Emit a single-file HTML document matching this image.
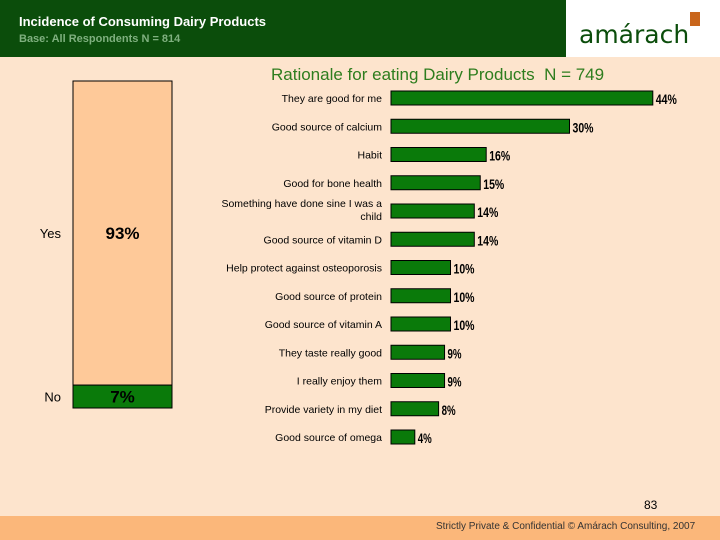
<!DOCTYPE html>
<html><head><meta charset="utf-8"><style>
body{margin:0;width:720px;height:540px;overflow:hidden;background:#fde4cd;font-family:"Liberation Sans",sans-serif;position:relative}
.abs{position:absolute}
</style></head><body>
<div class="abs" style="left:0;top:0;width:566px;height:57px;background:#0b4d0b"></div>
<div class="abs" style="left:19px;top:14px;color:#fff;font-weight:bold;font-size:13px">Incidence of Consuming Dairy Products</div>
<div class="abs" style="left:19px;top:33px;color:#7fb07f;font-weight:bold;font-size:11px">Base: All Respondents N = 814</div>
<div class="abs" style="left:566px;top:0;width:154px;height:57px;background:#fff"></div>
<div class="abs" style="left:579px;top:20px;color:#0b4d0b;font-size:25px;font-family:'DejaVu Sans',sans-serif">amárach</div>
<div class="abs" style="left:690px;top:12px;width:10px;height:14px;background:#c9661c"></div>
<div class="abs" style="left:271px;top:65px;color:#2e7d1e;font-size:17px">Rationale for eating Dairy Products&nbsp; N = 749</div>
<svg class="abs" style="left:0;top:0" width="720" height="540" id="chart"></svg>
<div class="abs" style="left:644px;top:498px;font-size:12px;color:#000">83</div>
<div class="abs" style="left:0;top:516px;width:720px;height:24px;background:#fbb77a"></div>
<div class="abs" style="left:436px;top:521px;font-size:10px;color:#333">Strictly Private &amp; Confidential © Amárach Consulting, 2007</div>
<script>
const categories=["They are good for me","Good source of calcium","Habit","Good for bone health","Something have done sine I was a child","Good source of vitamin D","Help protect against osteoporosis","Good source of protein","Good source of vitamin A","They taste really good","I really enjoy them","Provide variety in my diet","Good source of omega"];
const values=[44,30,16,15,14,14,10,10,10,9,9,8,4];
const stackLabels=["Yes","No"];
const stackValues=[93,7];
const NS="http://www.w3.org/2000/svg";
const svg=document.getElementById('chart');
function mk(t,a,txt){const e=document.createElementNS(NS,t);for(const k in a)e.setAttribute(k,a[k]);if(txt!==undefined)e.textContent=txt;svg.appendChild(e);return e;}
const x0=391,pxPer=5.95,y0=98,pitch=28.25,bh=14;
const xs=v=>x0+v*pxPer, yc=i=>y0+i*pitch;
categories.forEach((c,i)=>{
 const r=mk('rect',{x:x0,y:yc(i)-bh/2,width:xs(values[i])-x0,height:bh,fill:'#0a7a0a',stroke:'#000','stroke-width':1});
 
 
 const v=mk('text',{x:xs(values[i])+3,y:yc(i)+6,'font-size':14,'font-weight':'bold','textLength':(values[i]>=10?21:14),'lengthAdjust':'spacingAndGlyphs'},values[i]+'%');
 
 
 if(c.startsWith('Something')){
  const t1=mk('text',{x:382,y:yc(i)-4,'text-anchor':'end','font-size':10.5},'Something have done sine I was a');
  
  
  const t2=mk('text',{x:382,y:yc(i)+9,'text-anchor':'end','font-size':10.5},'child');
  
  
 } else {
  const t=mk('text',{x:382,y:yc(i)+4,'text-anchor':'end','font-size':10.5},c);
  
  
 }
});
const sTop=81,sBot=408,sx=73,sw=99;
const sy=v=>(sBot-sTop)*v/100;
let cur=sTop;
const fills=['#fec999','#0a7a0a'];
stackValues.forEach((v,i)=>{
 const h=sy(v);
 const r=mk('rect',{x:sx,y:cur,width:sw,height:h,fill:fills[i],stroke:'#000','stroke-width':1});
 
 
 const t=mk('text',{x:sx+sw/2,y:cur+h/2+6,'text-anchor':'middle','font-size':17,'font-weight':'bold'},v+'%');
 
 
 const l=mk('text',{x:61,y:cur+h/2+5,'text-anchor':'end','font-size':13},stackLabels[i]);
 
 
 cur+=h;
});
</script>
</body></html>
